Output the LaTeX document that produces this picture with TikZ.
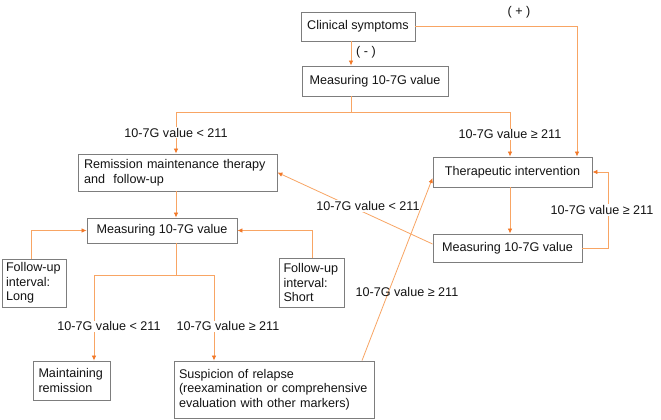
\documentclass[tikz,border=0pt]{standalone}
\usepackage{fontspec}
\setmainfont{Liberation Sans}
\usetikzlibrary{arrows.meta,calc}
\definecolor{ln}{RGB}{248,165,100}
\definecolor{tipc}{RGB}{242,120,40}
\definecolor{bx}{RGB}{125,125,125}
\definecolor{tx}{RGB}{20,20,20}
\begin{document}
\begin{tikzpicture}[x=1pt,y=-1pt,
  every node/.style={font=\fontsize{12.6}{14.5}\selectfont, text=tx},
  box/.style={draw=bx, line width=0.9pt, inner sep=0pt, fill=white},
  conn/.style={draw=ln, line width=0.8pt},
  arr/.style={conn, -{Latex[length=5pt,width=4.5pt,color=tipc]}},
  lab/.style={fill=white, inner sep=1pt},
]
\useasboundingbox[fill=white] (0,0) rectangle (661,420);

% boxes
\node[box, minimum width=114pt, minimum height=29pt] (cs) at (358,26.5) {Clinical symptoms};
\node[box, minimum width=146pt, minimum height=30pt] (m1) at (375,81) {Measuring 10-7G value};
\node[box, minimum width=199pt, minimum height=37pt, text width=187pt, align=left] (rem) at (177.5,172.5) {Remission maintenance therapy\\and~ follow-up};
\node[box, minimum width=150pt, minimum height=25pt] (m2) at (162,230.5) {Measuring 10-7G value};
\node[box, minimum width=159pt, minimum height=30pt] (ther) at (512.5,172) {Therapeutic intervention};
\node[box, minimum width=149pt, minimum height=28pt] (m3) at (507.5,248) {Measuring 10-7G value};
\node[box, minimum width=64pt, minimum height=48pt, text width=56pt, align=left] (long) at (34,283) {Follow-up\\interval:\\Long};
\node[box, minimum width=65pt, minimum height=49pt, text width=56pt, align=left] (short) at (311.5,282.5) {Follow-up\\interval:\\Short};
\node[box, minimum width=77pt, minimum height=39pt, text width=66pt, align=left] (maint) at (71.5,380.5) {Maintaining\\remission};
\node[box, minimum width=200pt, minimum height=57pt, text width=190pt, align=left] (susp) at (274,389.5) {Suspicion of relapse\\(reexamination or comprehensive\\evaluation with other markers)};

% helper coordinates
\coordinate (xA) at (351,0);
\coordinate (xB) at (577,0);
\coordinate (xL) at (176,0);
\coordinate (xR) at (510,0);
\coordinate (xRR) at (608,0);
\coordinate (xLo) at (31,0);
\coordinate (xS) at (312,0);
\coordinate (xM) at (94,0);
\coordinate (xN) at (214,0);
\coordinate (xS2) at (362,0);
\coordinate (yH1) at (0,112);
\coordinate (yH2) at (0,275);

% connectors
\draw[arr] (cs.south -| xA) -- (m1.north -| xA);
\node (minus) at (366,52) {( - )};
\draw[arr] (cs.east) -| (ther.north -| xB);
\node (plus) at (519,12) {( + )};

\draw[conn] (m1.south -| xA) -- (xA |- yH1);
\draw[arr] (xA |- yH1) -| node[lab, pos=0.75] {10-7G value < 211} (rem.north -| xL);
\draw[arr] (xA |- yH1) -| node[lab, pos=0.75] {10-7G value ≥ 211} (ther.north -| xR);

\draw[arr] (ther.south -| xR) -- (m3.north -| xR);
\draw[arr] (m3.east) -| node[lab, pos=0.75, xshift=-6pt] {10-7G value ≥ 211} (xRR |- ther.east) -- (ther.east);

\draw[arr] ($(m3.west)+(0,-4)$) -- (rem.east);
\node[lab] (l5) at (368,206) {10-7G value < 211};

\draw[arr] (susp.north -| xS2) -- ($(ther.west)+(0,6)$);
\node (l6) at (407,292) {10-7G value ≥ 211};

\draw[arr] (rem.south -| xL) -- (m2.north -| xL);
\draw[arr] (long.north -| xLo) |- (m2.west);
\draw[arr] (short.north -| xS) |- (m2.east);

\draw[conn] (m2.south -| xL) -- (xL |- yH2);
\draw[arr] (xL |- yH2) -| node[lab, pos=0.8, xshift=15pt] {10-7G value < 211} (maint.north -| xM);
\draw[arr] (xL |- yH2) -| node[lab, pos=0.8, xshift=14pt] {10-7G value ≥ 211} (susp.north -| xN);
\end{tikzpicture}
\end{document}
